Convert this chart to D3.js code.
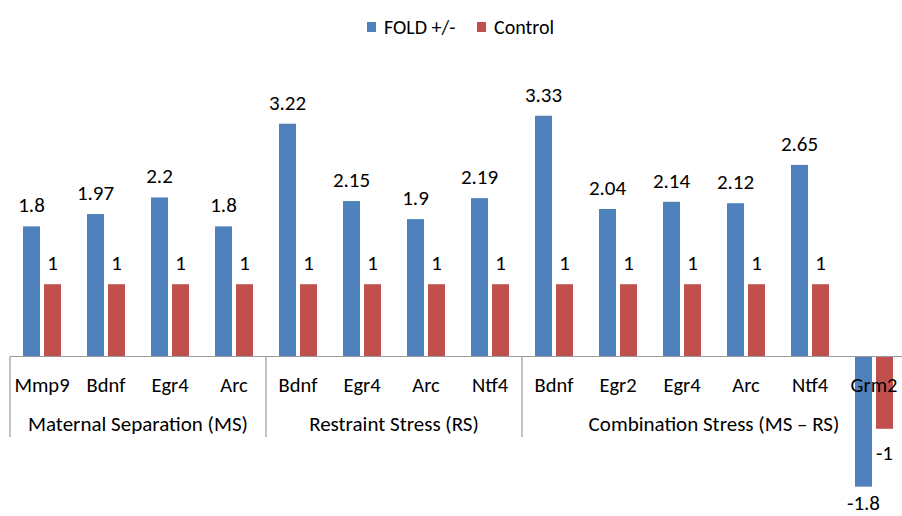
<!DOCTYPE html>
<html><head><meta charset="utf-8">
<script src="https://cdn.jsdelivr.net/npm/d3@7/dist/d3.min.js"></script>
<style>
html,body{margin:0;padding:0;background:#fff;}
svg{display:block;}
text{font-family:Carlito,Calibri,Lato,"Open Sans",sans-serif;fill:#000;}
</style></head>
<body>
<svg id="chart" width="902" height="516"></svg>
<script>
const genes = ["Mmp9","Bdnf","Egr4","Arc","Bdnf","Egr4","Arc","Ntf4","Bdnf","Egr2","Egr4","Arc","Ntf4","Grm2"];
const groups = ["Maternal Separation (MS)","Restraint Stress (RS)","Combination Stress (MS \u2013 RS)"];
const groupSizes = [4,4,6];
const foldValues = [1.8,1.97,2.2,1.8,3.22,2.15,1.9,2.19,3.33,2.04,2.14,2.12,2.65,-1.8];
const controlValues = [1,1,1,1,1,1,1,1,1,1,1,1,1,-1];
const seriesNames = ["FOLD +/-","Control"];
const colors = ["#4F81BD","#C0504D"];

const svg = d3.select("#chart");
const idx = d3.range(genes.length);
const x = d3.scaleBand().domain(idx).range([10, 906]).padding(0);
const x1 = d3.scaleBand().domain([0,1]).range([0, x.bandwidth()]).paddingInner(0.19).paddingOuter(0.62);
const y = d3.scaleLinear().domain([-2, 3.5]).range([501.1, 103.45]);
const y0 = y(0);

// bars
const series = [foldValues, controlValues];
series.forEach((vals, s) => {
  svg.append("g").selectAll("rect").data(idx).join("rect")
    .attr("x", i => x(i) + x1(s))
    .attr("width", x1.bandwidth())
    .attr("y", i => Math.min(y(vals[i]), y0))
    .attr("height", i => Math.abs(y(vals[i]) - y0))
    .attr("fill", colors[s]);
});

// axis line & dividers
const axisColor = "#9a9a9a";
svg.append("line").attr("x1", 10).attr("x2", 902).attr("y1", y0).attr("y2", y0)
  .attr("stroke", axisColor).attr("stroke-width", 1.2);
let start = 0;
const bounds = [];
groupSizes.forEach(n => { bounds.push([start, start + n]); start += n; });
bounds.forEach(([a]) => {
  svg.append("line").attr("x1", x(a)).attr("x2", x(a)).attr("y1", y0).attr("y2", 437)
    .attr("stroke", axisColor).attr("stroke-width", 1.2);
});

// value labels
series.forEach((vals, s) => {
  svg.append("g").selectAll("text").data(idx).join("text")
    .attr("x", i => x(i) + x1(s) + x1.bandwidth()/2)
    .attr("y", i => vals[i] >= 0 ? y(vals[i]) - 14 : Math.min(y(vals[i]) + 31, 510))
    .attr("text-anchor", "middle")
    .attr("font-size", 21)
    .text(i => vals[i]);
});

// gene labels
svg.append("g").selectAll("text").data(idx).join("text")
  .attr("x", i => x(i) + x.bandwidth()/2)
  .attr("y", 392)
  .attr("text-anchor", "middle")
  .attr("font-size", 20.5)
  .text(i => genes[i]);

// group labels
bounds.forEach(([a,b], g) => {
  const cx = (x(a) + x(b-1) + x.bandwidth())/2;
  svg.append("text").attr("x", cx).attr("y", 431).attr("text-anchor","middle")
    .attr("font-size", 21).text(groups[g]);
});

// legend
const legend = svg.append("g");
const legX = [367, 477];
seriesNames.forEach((n, s) => {
  legend.append("rect").attr("x", legX[s]).attr("y", 22).attr("width", 9).attr("height", 10).attr("fill", colors[s]);
  legend.append("text").attr("x", legX[s] + 17).attr("y", 34).attr("font-size", 20).text(n);
});
</script>
</body></html>
